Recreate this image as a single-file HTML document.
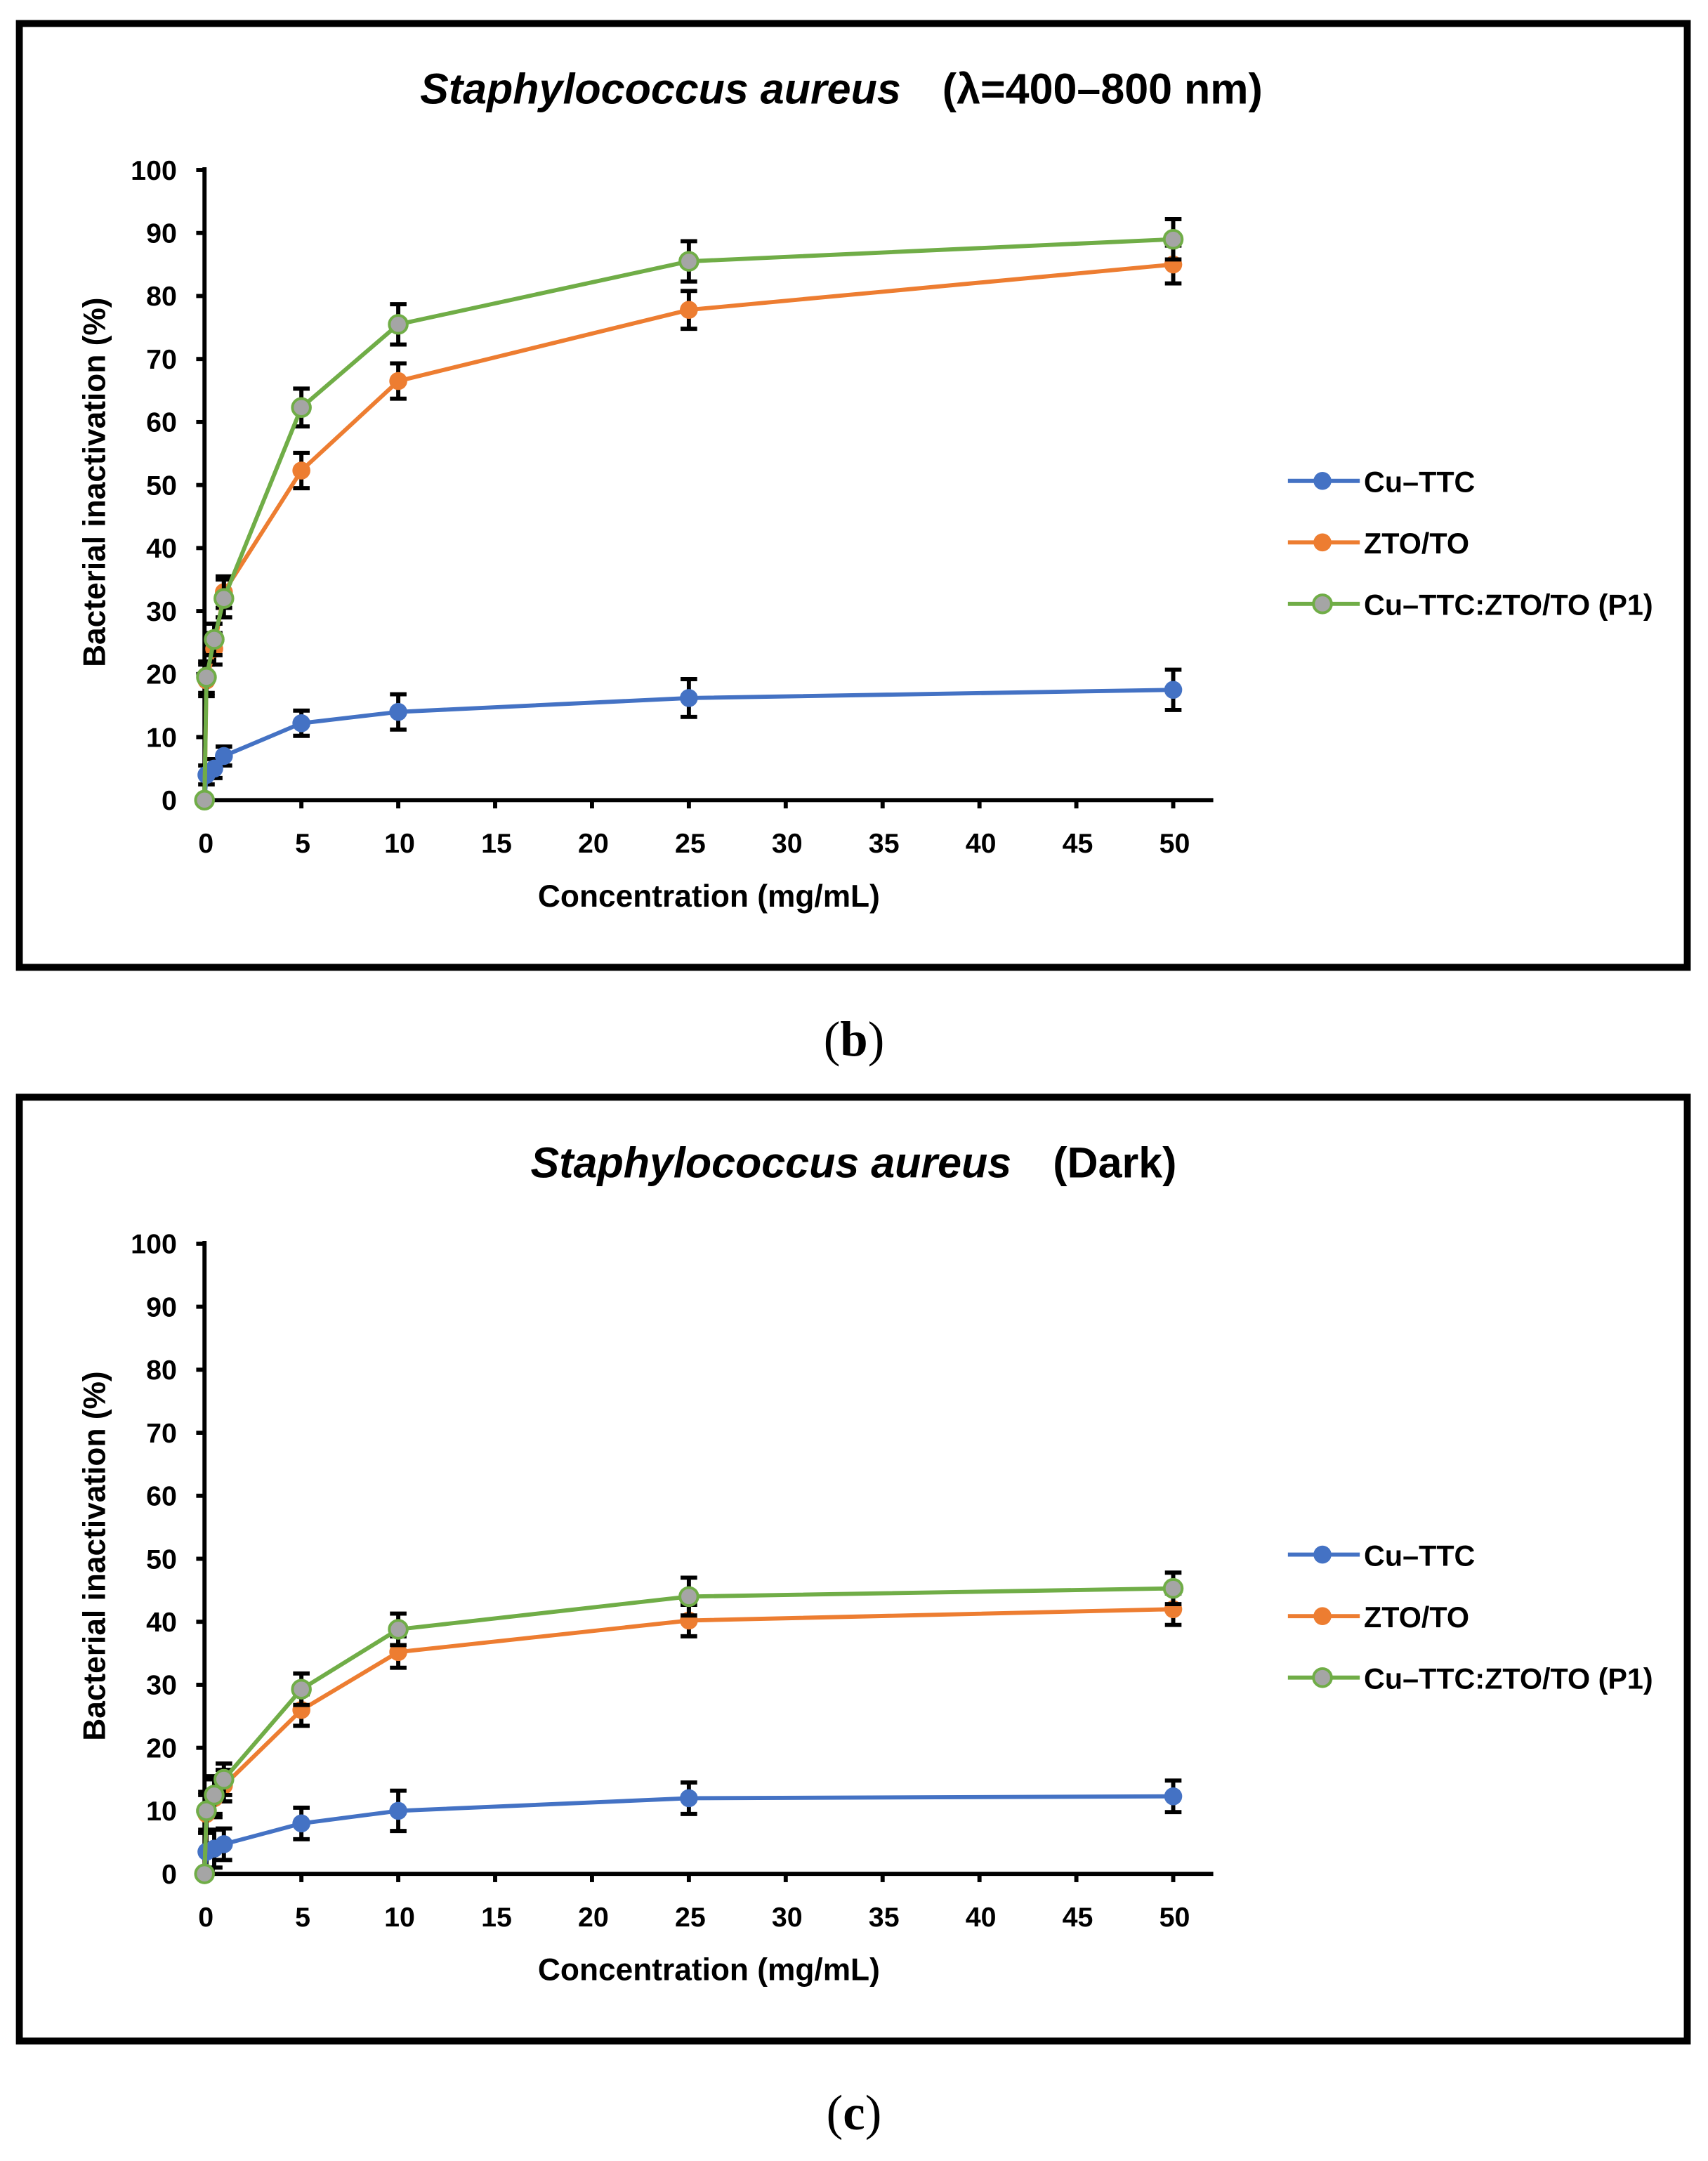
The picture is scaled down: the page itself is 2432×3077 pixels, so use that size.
<!DOCTYPE html>
<html><head><meta charset="utf-8"><style>
html,body{margin:0;padding:0;background:#fff;}
svg{display:block;font-family:"Liberation Sans","DejaVu Sans",sans-serif;}
</style></head><body>
<svg id="fig" width="2432" height="3077" viewBox="0 0 1236 1563.8" preserveAspectRatio="none"></svg>
<script>
const xVals=[0,0.1,0.5,1,5,10,25,50];
const b_cu=[0,4,5,7,12.2,14,16.2,17.5];
const b_zto=[0,19,24,33,52.3,66.5,77.8,85];
const b_p1=[0,19.5,25.5,32,62.3,75.5,85.5,89];
const b_cuErr=[0,1.5,1.5,1.5,2,2.8,3,3.2];
const b_ztoErr=[0,2.5,2.5,2.5,2.8,2.8,3,3];
const b_p1Err=[0,2.5,2.5,3,3,3.2,3.2,3.2];
const c_cu=[0,3.5,4,4.7,8,10,12,12.3];
const c_zto=[0,9.5,12,14,26,35.2,40.2,42];
const c_p1=[0,10,12.5,15,29.3,38.8,44,45.3];
const c_cuErr=[0,3,3,2.5,2.5,3.2,2.5,2.5];
const c_ztoErr=[0,3,3,2.5,2.5,2.5,2.5,2.5];
const c_p1Err=[0,3,3,2.5,2.5,2.5,3,2.5];
const xTicks=[0,5,10,15,20,25,30,35,40,45,50];
const yTicks=[0,10,20,30,40,50,60,70,80,90,100];
const legendNames=["Cu–TTC","ZTO/TO","Cu–TTC:ZTO/TO (P1)"];
const NS="http://www.w3.org/2000/svg";
const svg=document.getElementById('fig');
function mk(tag,attrs,parent,text){const e=document.createElementNS(NS,tag);for(const k in attrs)e.setAttribute(k,attrs[k]);if(text!==undefined)e.textContent=text;(parent||svg).appendChild(e);return e;}
const colors=["#4472C4","#ED7D31","#70AD47"];
function panel(top,titleParts,series,errs,label,name){
  const g=mk('g',{});
  
  
  const box=mk('rect',{x:14,y:top,width:1207,height:683,fill:'none',stroke:'#000','stroke-width':5},g);
  
  const x0=148,x1=849,y0=top+562,y100=top+106;
  const sx=v=>x0+(x1-x0)*v/50, sy=v=>y0+(y100-y0)*v/100;
  const t=mk('text',{x:titleParts[2],y:top+58,'font-size':31,'font-weight':'bold'},g);
  
  mk('tspan',{'font-style':'italic'},t,titleParts[0]);
  mk('tspan',{dx:30},t,titleParts[1]);
  const ya=mk('line',{x1:x0,y1:y100-2,x2:x0,y2:y0+2,stroke:'#000','stroke-width':3},g);
  
  const xa=mk('line',{x1:x0-1,y1:y0,x2:878,y2:y0,stroke:'#000','stroke-width':3},g);
  
  yTicks.forEach(v=>{mk('line',{x1:x0-6,y1:sy(v),x2:x0,y2:sy(v),stroke:'#000','stroke-width':3},g);
    const l=mk('text',{x:x0-20,y:sy(v)+7,'font-size':20,'font-weight':'bold','text-anchor':'end'},g,String(v));
    });
  xTicks.forEach(v=>{mk('line',{x1:sx(v),y1:y0,x2:sx(v),y2:y0+6,stroke:'#000','stroke-width':3},g);
    const l=mk('text',{x:sx(v)+1,y:y0+38,'font-size':20,'font-weight':'bold','text-anchor':'middle'},g,String(v));
    });
  const xt=mk('text',{x:513,y:top+639,'font-size':22.5,'font-weight':'bold','text-anchor':'middle'},g,'Concentration (mg/mL)');
  
  const yt=mk('text',{x:0,y:0,'font-size':22.5,'font-weight':'bold','text-anchor':'middle',transform:`translate(76,${top+332}) rotate(-90)`},g,'Bacterial inactivation (%)');
  
  series.forEach((s,i)=>{
    const sg=mk('g',{},g);
    
    
    s.forEach((v,j)=>{const e=errs[i][j];if(e>0){const x=sx(xVals[j]);
      mk('path',{d:`M${x},${sy(v-e)}V${sy(v+e)}M${x-6},${sy(v-e)}h12M${x-6},${sy(v+e)}h12`,stroke:'#000','stroke-width':3,fill:'none'},sg);}});
    mk('polyline',{points:s.map((v,j)=>sx(xVals[j])+','+sy(v)).join(' '),fill:'none',stroke:colors[i],'stroke-width':3},sg);
    s.forEach((v,j)=>{const c=mk('circle',{cx:sx(xVals[j]),cy:sy(v),r:6.5,fill:i==2?'#A5A5A5':colors[i],stroke:colors[i],'stroke-width':i==2?2:0},sg);
      });
  });
  legendNames.forEach((n,i)=>{const ly=top+331+i*44.5;
    const lg=mk('g',{},g);
    
    mk('line',{x1:932,y1:ly,x2:984,y2:ly,stroke:colors[i],'stroke-width':3},lg);
    mk('circle',{cx:957,cy:ly,r:6.5,fill:i==2?'#A5A5A5':colors[i],stroke:colors[i],'stroke-width':i==2?2:0},lg);
    mk('text',{x:987,y:ly+8,'font-size':21,'font-weight':'bold'},lg,n);});
  const pl=mk('text',{x:618,y:top+747,'font-size':36,'font-family':'"Liberation Serif",serif','text-anchor':'middle'},g);
  
  mk('tspan',{},pl,'(');mk('tspan',{'font-weight':'bold'},pl,label);mk('tspan',{},pl,')');
}
panel(17,['Staphylococcus aureus','(λ=400–800 nm)',304],[b_cu,b_zto,b_p1],[b_cuErr,b_ztoErr,b_p1Err],'b','panel-b-chart');
panel(794,['Staphylococcus aureus','(Dark)',384],[c_cu,c_zto,c_p1],[c_cuErr,c_ztoErr,c_p1Err],'c','panel-c-chart');
</script>
</body></html>
